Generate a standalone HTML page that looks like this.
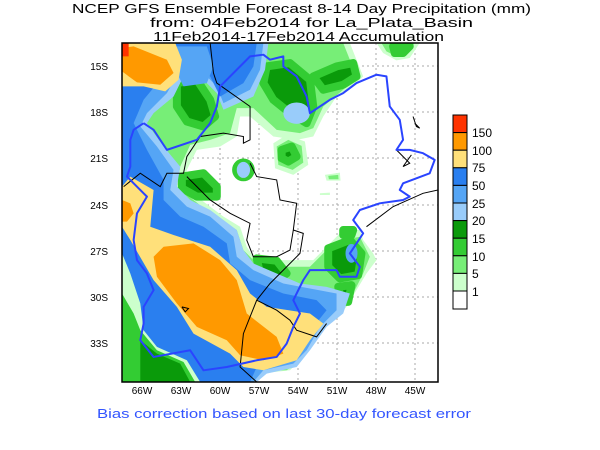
<!DOCTYPE html>
<html><head><meta charset="utf-8"><style>
html,body{margin:0;padding:0;background:#fff;}
svg{display:block;}
text{font-family:"Liberation Sans",sans-serif;}
</style></head><body>
<svg width="600" height="450" viewBox="0 0 600 450" xmlns="http://www.w3.org/2000/svg">
<rect width="600" height="450" fill="#fff"/>
<text x="72" y="13" font-size="13" textLength="459" lengthAdjust="spacingAndGlyphs">NCEP GFS Ensemble Forecast 8-14 Day Precipitation (mm)</text>
<text x="150" y="27" font-size="13" textLength="323" lengthAdjust="spacingAndGlyphs">from: 04Feb2014   for La_Plata_Basin</text>
<text x="153" y="41" font-size="13" textLength="291" lengthAdjust="spacingAndGlyphs">11Feb2014-17Feb2014 Accumulation</text>
<g stroke="#aaa" stroke-width="1" stroke-dasharray="2,3">
<line x1="142" y1="43" x2="142" y2="382"/><line x1="181" y1="43" x2="181" y2="382"/><line x1="220" y1="43" x2="220" y2="382"/><line x1="259" y1="43" x2="259" y2="382"/><line x1="298" y1="43" x2="298" y2="382"/><line x1="337" y1="43" x2="337" y2="382"/><line x1="376" y1="43" x2="376" y2="382"/><line x1="415" y1="43" x2="415" y2="382"/>
<line x1="122" y1="66" x2="438" y2="66"/><line x1="122" y1="112" x2="438" y2="112"/><line x1="122" y1="158" x2="438" y2="158"/><line x1="122" y1="205" x2="438" y2="205"/><line x1="122" y1="251" x2="438" y2="251"/><line x1="122" y1="297" x2="438" y2="297"/><line x1="122" y1="343" x2="438" y2="343"/>
</g>
<svg x="122" y="43" width="316" height="339" viewBox="35 10 950 1015" preserveAspectRatio="none" overflow="hidden">
<g stroke-linejoin="round">
<path fill="#ccffcc" d="M35,10 L720,10 740,60 760,110 730,140 680,170 640,230 610,290 560,300 490,290 420,230 390,230 380,290 330,320 260,330 230,390 220,440 260,470 300,500 340,530 390,560 410,620 430,650 510,660 560,660 610,660 650,620 700,570 750,570 760,600 790,640 800,660 770,700 740,750 710,800 660,850 620,880 580,950 540,990 450,1000 440,1025 35,1025Z M800,10 L930,10 900,55 860,62 820,40Z M490,310 L530,285 585,305 595,375 550,405 495,385Z M645,405 L690,398 692,422 650,422Z M630,460 L660,458 660,465 630,465Z"/>
<path fill="#77ee77" d="M35,10 L700,10 720,60 740,110 700,150 640,200 610,265 570,280 500,270 430,205 380,205 360,280 300,300 240,315 210,380 200,440 250,480 300,520 380,570 400,630 440,670 520,680 600,680 650,630 700,600 750,590 780,650 760,700 730,760 700,810 650,850 610,900 570,960 530,990 35,1000Z M815,10 L915,10 890,45 860,50 830,35Z M500,320 L535,300 575,318 580,368 548,390 505,375Z M655,408 L685,405 686,418 657,418Z"/>
<g fill="#0a9a0a" stroke="#33cc33" stroke-width="24">
<path d="M470,80 L540,70 600,120 610,200 590,250 540,220 490,180 460,130Z"/>
<path d="M610,110 L680,80 730,70 740,110 700,135 640,150Z"/>
<path d="M200,130 L260,120 300,180 315,230 280,260 230,245 200,200Z"/>
<path d="M215,410 L280,400 320,440 320,470 260,470 215,445Z"/>
<path d="M440,655 L500,662 530,700 500,720 450,700Z"/>
<path d="M655,625 L720,600 755,640 745,705 690,715 655,680Z"/>
<path d="M685,740 L725,735 715,785 695,785Z"/>
<path d="M850,20 L900,20 880,40 855,40Z"/>
<path d="M515,330 L545,320 560,350 535,365 515,355Z"/>
<circle cx="400" cy="390" r="22"/>
<path d="M700,570 L730,570 725,585 700,585Z"/>
</g>
<path fill="#99ccfa" d="M35,10 L475,10 465,90 430,170 340,210 320,160 280,120 220,110 190,170 130,220 110,250 160,320 210,380 200,440 240,480 300,510 380,570 400,630 430,670 500,700 570,730 650,740 720,760 700,820 650,860 600,930 560,980 470,1000 440,1025 35,1025Z"/>
<ellipse cx="560" cy="220" rx="40" ry="32" fill="#99ccfa"/>
<ellipse cx="400" cy="390" rx="20" ry="24" fill="#99ccfa"/>
<ellipse cx="725" cy="640" rx="18" ry="28" fill="#55a5f5"/>
<path fill="#55a5f5" d="M35,10 L460,10 450,90 420,150 340,190 320,140 280,100 210,90 170,160 110,220 90,260 140,320 190,390 180,450 230,500 300,530 370,590 380,650 430,690 520,730 600,745 680,760 680,810 630,860 590,930 550,970 460,990 430,1025 35,1025Z"/>
<path fill="#2a7fef" d="M35,10 L440,10 430,80 400,130 330,170 300,110 220,80 150,120 100,180 70,250 110,330 160,420 160,480 210,530 280,560 350,610 360,670 420,720 520,760 620,780 650,810 610,860 570,920 520,960 440,980 420,1025 35,1025Z"/>
<path fill="#55a5f5" d="M200,20 L290,20 310,80 290,130 220,140 190,80Z"/>
<path fill="#ffe07a" d="M35,10 L195,10 215,60 205,120 165,155 100,140 35,140Z"/>
<path fill="#ff9900" d="M35,25 L70,20 170,60 190,100 150,135 80,128 35,95Z"/>
<path fill="#ff3300" d="M35,10 L55,10 55,50 35,50Z"/>
<path fill="#ccffcc" d="M35,640 L60,700 90,790 100,870 140,920 230,960 270,1025 35,1025Z"/>
<path fill="#33cc33" d="M35,760 L70,820 90,870 140,930 220,965 255,1025 35,1025Z"/>
<path fill="#0a9a0a" d="M90,900 L140,940 210,970 240,1025 90,1025Z"/>
<path fill="#ffe07a" d="M35,440 L60,410 130,450 120,560 190,585 300,620 380,690 420,760 470,800 600,820 640,850 600,900 560,960 460,990 400,980 360,940 250,880 200,800 130,720 60,600 35,560Z"/>
<path fill="#ff9900" d="M130,650 L160,620 250,610 330,660 380,720 410,820 500,890 520,940 460,960 390,945 350,900 260,860 200,790 140,710Z M35,480 L60,490 70,520 50,545 35,545Z"/>
</g>
<g fill="none" stroke="#000" stroke-width="1" vector-effect="non-scaling-stroke">
<polyline vector-effect="non-scaling-stroke" points="300,10 310,100 320,130 420,200 420,300 400,310 400,290 340,280 270,290 230,350 220,400 170,400 150,440 90,400 40,440"/>
<polyline vector-effect="non-scaling-stroke" points="230,410 300,480 360,520 420,550 410,600 430,650 500,650 540,630 550,570 560,490 510,480 500,420 440,410 420,370"/>
<polyline vector-effect="non-scaling-stroke" points="550,570 580,580 570,640 480,730 440,780 420,830 400,880 390,980 440,1025"/>
<polyline vector-effect="non-scaling-stroke" points="440,780 500,810 540,840 560,870 620,890 650,850"/>
<polyline vector-effect="non-scaling-stroke" points="770,560 850,500 940,460 985,450"/>
<polyline vector-effect="non-scaling-stroke" points="215,800 235,805 225,815 215,800"/>
<polyline vector-effect="non-scaling-stroke" points="910,230 920,260 930,265 915,250"/>
<polyline vector-effect="non-scaling-stroke" points="860,330 900,370 880,380 905,345"/>
</g>
<polyline fill="none" stroke="#2a44ff" stroke-width="2" vector-effect="non-scaling-stroke" stroke-linejoin="round" points="100,250 70,270 60,300 60,380 50,410 70,430 100,460 110,470 80,520 70,600 80,660 110,700 130,750 100,800 100,850 90,900 130,950 240,930 280,990 350,980 440,960 500,950 530,910 550,860 570,820 550,780 580,720 600,690 680,690 690,710 740,710 750,680 720,640 740,610 760,580 730,540 750,510 810,490 880,480 900,470 870,450 880,430 960,400 975,360 940,340 900,330 860,330 880,300 870,240 840,200 830,110 800,105 740,130 700,160 660,180 600,220 590,170 560,110 520,80 520,50 480,60 460,45 420,50 330,140 320,200 300,250 260,300 170,330 130,270 100,250"/>
</svg>
<rect x="122" y="43" width="316" height="339" fill="none" stroke="#000" stroke-width="1.5"/>
<g font-size="10" text-anchor="end">
<text x="108" y="70">15S</text><text x="108" y="116">18S</text><text x="108" y="162">21S</text><text x="108" y="209">24S</text><text x="108" y="255">27S</text><text x="108" y="301">30S</text><text x="108" y="347">33S</text>
</g>
<g font-size="10" text-anchor="middle">
<text x="142" y="394">66W</text><text x="181" y="394">63W</text><text x="220" y="394">60W</text><text x="259" y="394">57W</text><text x="298" y="394">54W</text><text x="337" y="394">51W</text><text x="376" y="394">48W</text><text x="415" y="394">45W</text>
</g>
<g stroke="#000" stroke-width="1">
<rect x="453" y="115" width="14" height="17.6" fill="#ff3300"/>
<rect x="453" y="132.6" width="14" height="17.6" fill="#ff9900"/>
<rect x="453" y="150.2" width="14" height="17.6" fill="#ffe07a"/>
<rect x="453" y="167.8" width="14" height="17.6" fill="#2a7fef"/>
<rect x="453" y="185.4" width="14" height="17.6" fill="#55a5f5"/>
<rect x="453" y="203" width="14" height="17.6" fill="#99ccfa"/>
<rect x="453" y="220.6" width="14" height="17.6" fill="#0a9a0a"/>
<rect x="453" y="238.2" width="14" height="17.6" fill="#33cc33"/>
<rect x="453" y="255.8" width="14" height="17.6" fill="#77ee77"/>
<rect x="453" y="273.4" width="14" height="17.6" fill="#ccffcc"/>
<rect x="453" y="291" width="14" height="18" fill="#fff"/>
</g>
<g font-size="12">
<text x="472" y="137">150</text><text x="472" y="155">100</text><text x="472" y="172">75</text><text x="472" y="190">50</text><text x="472" y="208">25</text><text x="472" y="225">20</text><text x="472" y="243">15</text><text x="472" y="261">10</text><text x="472" y="278">5</text><text x="472" y="296">1</text>
</g>
<text x="97" y="418" font-size="13" fill="#3355ff" textLength="374" lengthAdjust="spacingAndGlyphs">Bias correction based on last 30-day forecast error</text>
</svg>
</body></html>
